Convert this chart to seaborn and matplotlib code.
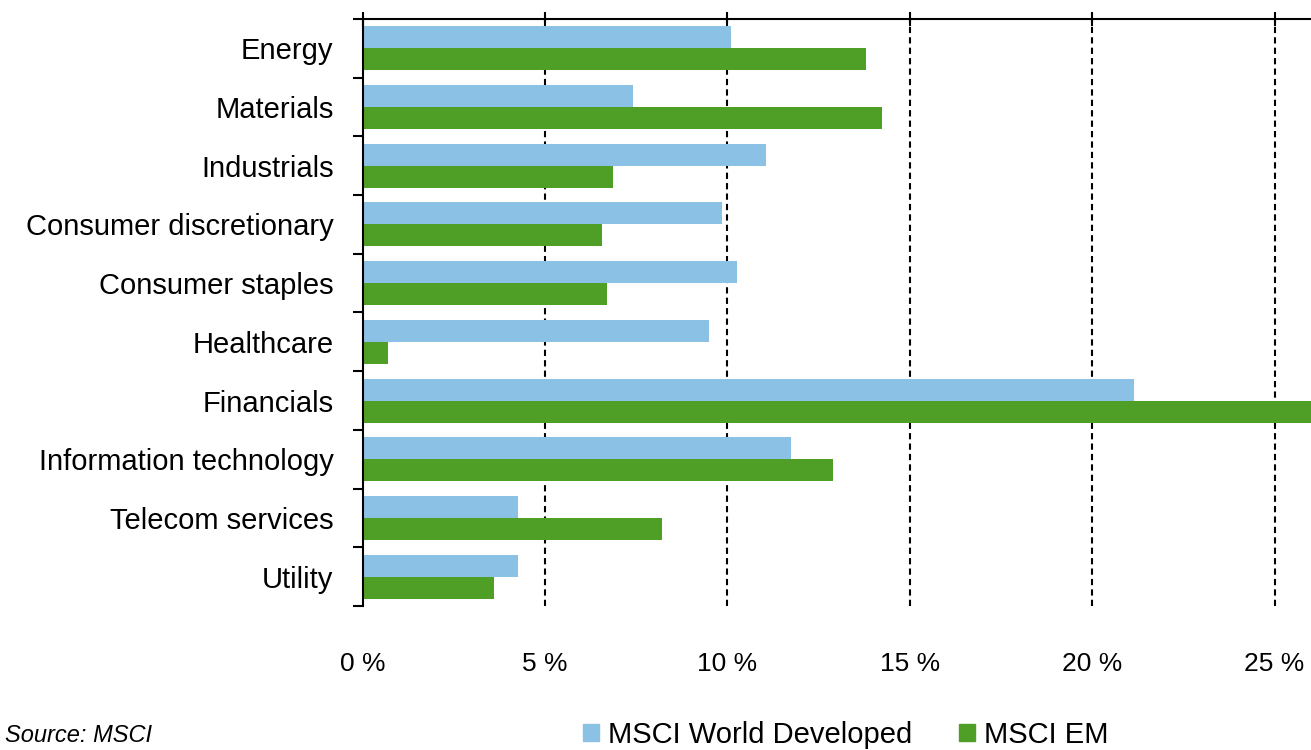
import numpy as np
import pandas as pd
import matplotlib
matplotlib.use("Agg")
import matplotlib.pyplot as plt
import seaborn as sns

# sector weights (%)
sectors = ["Energy", "Materials", "Industrials", "Consumer discretionary",
           "Consumer staples", "Healthcare", "Financials",
           "Information technology", "Telecom services", "Utility"]
developed = [10.1, 7.4, 11.05, 9.85, 10.25, 9.5, 21.15, 11.75, 4.25, 4.25]
emerging = [13.8, 14.25, 6.85, 6.55, 6.7, 0.7, 27.0, 12.9, 8.2, 3.6]
series_names = ["MSCI World Developed", "MSCI EM"]
xticks = [0, 5, 10, 15, 20, 25]
xtick_labels = ["0 %", "5 %", "10 %", "15 %", "20 %", "25 %"]

df = pd.DataFrame({
    "sector": sectors * 2,
    "value": developed + emerging,
    "series": [series_names[0]] * len(sectors) + [series_names[1]] * len(sectors),
})

sns.set_style("white")
plt.rcParams["font.family"] = ["Liberation Sans", "DejaVu Sans"]
plt.rcParams["text.color"] = "black"
plt.rcParams["xtick.color"] = "black"
plt.rcParams["ytick.color"] = "black"

fig = plt.figure(figsize=(13.11, 7.5), dpi=100)
ax = fig.add_axes([0.2767, 0.192, 0.7233, 0.7827])

sns.barplot(data=df, y="sector", x="value", hue="series", order=sectors,
            hue_order=series_names, palette=["#8bc1e5", "#4f9f27"],
            orient="h", width=0.75, gap=0, saturation=1, linewidth=0,
            ax=ax, legend=False)

ax.set_xlim(0, 26)
ax.set_ylim(len(sectors) - 0.5, -0.5)
ax.set_xlabel("")
ax.set_ylabel("")

# x axis: ticks on top line, labels down below
ax.set_xticks(xticks)
ax.set_xticklabels(xtick_labels, fontsize=19)
ax.tick_params(axis="x", bottom=False, top=True, labelbottom=True, labeltop=False,
               direction="inout", length=10, width=1.5, color="black", pad=28)

# y axis: labels centred, ticks at group boundaries
ax.set_yticks(np.arange(len(sectors)))
ax.set_yticklabels(sectors, fontsize=21)
ax.tick_params(axis="y", which="major", length=0, pad=21)
ax.set_yticks(np.arange(len(sectors) + 1) - 0.5, minor=True)
ax.tick_params(axis="y", which="minor", left=True, length=7, width=1.5, color="black")

ax.set_axisbelow(True)
for x in xticks[1:]:
    ax.axvline(x, color="black", linestyle=(0, (3, 2)), linewidth=1.5, zorder=0)

for side in ["right", "bottom"]:
    ax.spines[side].set_visible(False)
ax.spines["left"].set_color("black")
ax.spines["left"].set_linewidth(1.5)
ax.spines["top"].set_color("black")
ax.spines["top"].set_linewidth(1.5)

handles = [plt.Rectangle((0, 0), 1, 1, color=c) for c in ["#8bc1e5", "#4f9f27"]]
fig.legend(handles, series_names, loc="center", bbox_to_anchor=(0.645, 0.02),
           ncol=2, frameon=False, fontsize=21, handlelength=0.55, handleheight=0.55,
           handletextpad=0.3, columnspacing=1.6)

fig.text(0.004, 0.004, "Source: MSCI", fontsize=17, style="italic", va="bottom", ha="left")

fig.savefig("out.png", dpi=100)
